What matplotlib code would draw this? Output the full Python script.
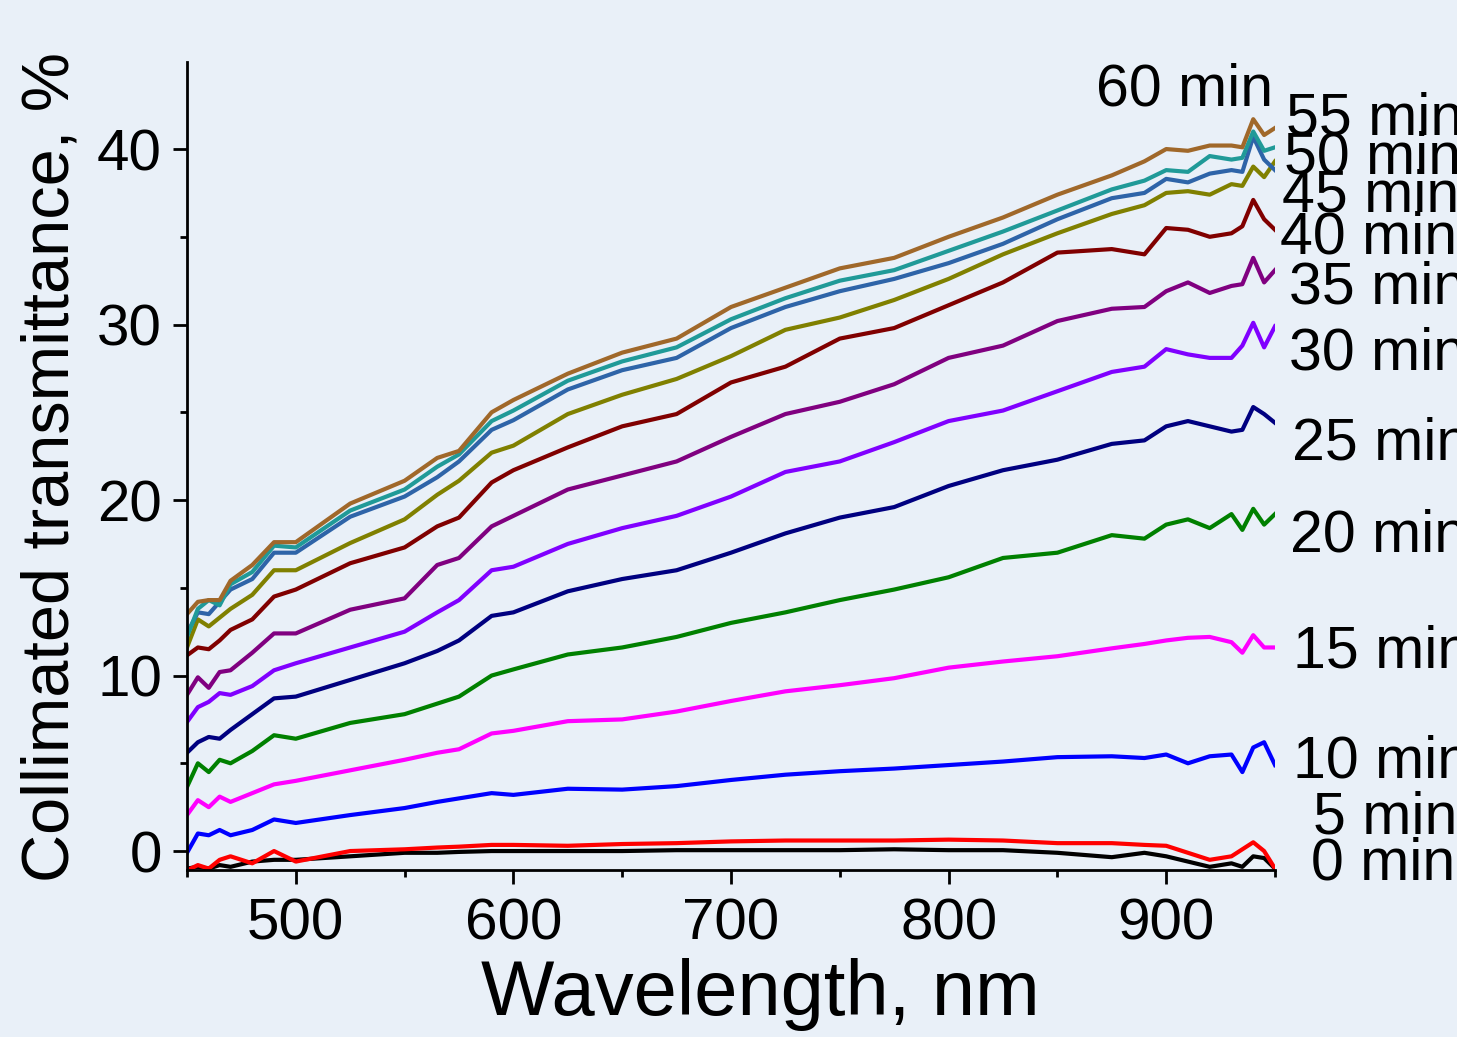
import matplotlib
matplotlib.use("Agg")
import matplotlib.pyplot as plt
from matplotlib.ticker import MultipleLocator

plt.rcParams['font.family'] = ['Liberation Sans', 'DejaVu Sans']

# wavelength grid, nm
wl = [450, 455, 460, 465, 470, 480, 490, 500, 525, 550, 565, 575, 590, 600,
      625, 650, 675, 700, 725, 750, 775, 800, 825, 850, 875, 890, 900, 910,
      920, 930, 935, 940, 945, 950]

# collimated transmittance, %
t0 = [-1.0, -0.9, -1.0, -0.8, -0.9, -0.6, -0.5, -0.5, -0.3, -0.1, -0.1, -0.05,
      0.0, 0.0, 0.0, 0.0, 0.05, 0.05, 0.05, 0.05, 0.1, 0.05, 0.05, -0.1, -0.35,
      -0.1, -0.3, -0.6, -0.9, -0.7, -0.9, -0.3, -0.4, -1.0]
t5 = [-1.1, -0.8, -1.0, -0.5, -0.3, -0.7, 0.0, -0.6, 0.0, 0.1, 0.2, 0.25,
      0.35, 0.35, 0.3, 0.4, 0.45, 0.55, 0.6, 0.6, 0.6, 0.65, 0.6, 0.45, 0.45,
      0.35, 0.3, -0.1, -0.5, -0.3, 0.1, 0.5, 0.0, -1.0]
t10 = [-0.1, 1.0, 0.9, 1.2, 0.9, 1.2, 1.8, 1.6, 2.05, 2.45, 2.8, 3.0, 3.3, 3.2,
       3.55, 3.5, 3.7, 4.05, 4.35, 4.55, 4.7, 4.9, 5.1, 5.35, 5.4, 5.3, 5.5,
       5.0, 5.4, 5.5, 4.5, 5.9, 6.2, 4.9]
t15 = [2.05, 2.9, 2.5, 3.1, 2.8, 3.3, 3.8, 4.0, 4.6, 5.2, 5.6, 5.8, 6.7, 6.85,
       7.4, 7.5, 7.95, 8.55, 9.1, 9.45, 9.85, 10.45, 10.8, 11.1, 11.55, 11.8,
       12.0, 12.15, 12.2, 11.9, 11.3, 12.3, 11.6, 11.6]
t20 = [3.65, 5.0, 4.5, 5.2, 5.0, 5.7, 6.6, 6.4, 7.3, 7.8, 8.4, 8.8, 10.0, 10.35,
       11.2, 11.6, 12.2, 13.0, 13.6, 14.3, 14.9, 15.6, 16.7, 17.0, 18.0, 17.8,
       18.6, 18.9, 18.4, 19.2, 18.3, 19.5, 18.6, 19.2]
t25 = [5.6, 6.2, 6.5, 6.4, 6.9, 7.8, 8.7, 8.8, 9.75, 10.7, 11.4, 12.0, 13.4,
       13.6, 14.8, 15.5, 16.0, 17.0, 18.1, 19.0, 19.6, 20.8, 21.7, 22.3, 23.2,
       23.4, 24.2, 24.5, 24.2, 23.9, 24.0, 25.3, 24.9, 24.4]
t30 = [7.35, 8.2, 8.5, 9.0, 8.9, 9.4, 10.3, 10.7, 11.6, 12.5, 13.6, 14.3, 16.0,
       16.2, 17.5, 18.4, 19.1, 20.2, 21.6, 22.2, 23.3, 24.5, 25.1, 26.2, 27.3,
       27.6, 28.6, 28.3, 28.1, 28.1, 28.8, 30.1, 28.7, 29.9]
t35 = [8.9, 9.9, 9.3, 10.2, 10.3, 11.3, 12.4, 12.4, 13.75, 14.4, 16.3, 16.7,
       18.5, 19.1, 20.6, 21.4, 22.2, 23.6, 24.9, 25.6, 26.6, 28.1, 28.8, 30.2,
       30.9, 31.0, 31.9, 32.4, 31.8, 32.2, 32.3, 33.8, 32.4, 33.1]
t40 = [11.15, 11.6, 11.5, 12.0, 12.6, 13.2, 14.5, 14.9, 16.4, 17.3, 18.5, 19.0,
       21.0, 21.7, 23.0, 24.2, 24.9, 26.7, 27.6, 29.2, 29.8, 31.1, 32.4, 34.1,
       34.3, 34.0, 35.5, 35.4, 35.0, 35.2, 35.6, 37.1, 36.0, 35.4]
t45 = [11.6, 13.2, 12.8, 13.3, 13.8, 14.6, 16.0, 16.0, 17.55, 18.9, 20.3, 21.1,
       22.7, 23.1, 24.9, 26.0, 26.9, 28.2, 29.7, 30.4, 31.4, 32.6, 34.0, 35.2,
       36.3, 36.8, 37.5, 37.6, 37.4, 38.0, 37.9, 39.0, 38.4, 39.3]
t50 = [12.4, 13.6, 13.5, 14.2, 14.9, 15.5, 17.0, 17.0, 19.05, 20.2, 21.3, 22.2,
       24.0, 24.55, 26.3, 27.4, 28.1, 29.8, 31.0, 31.9, 32.6, 33.5, 34.6, 36.0,
       37.2, 37.5, 38.3, 38.1, 38.6, 38.8, 38.7, 40.7, 39.4, 38.8]
t55 = [12.2, 13.8, 14.3, 14.0, 15.2, 15.9, 17.4, 17.3, 19.4, 20.6, 21.9, 22.6,
       24.5, 25.1, 26.8, 27.9, 28.7, 30.3, 31.5, 32.5, 33.1, 34.2, 35.3, 36.5,
       37.7, 38.2, 38.8, 38.7, 39.6, 39.4, 39.5, 41.0, 39.9, 40.1]
t60 = [13.5, 14.2, 14.3, 14.3, 15.4, 16.3, 17.6, 17.6, 19.8, 21.1, 22.4, 22.8,
       25.0, 25.7, 27.2, 28.4, 29.2, 31.0, 32.1, 33.2, 33.8, 35.0, 36.1, 37.4,
       38.5, 39.3, 40.0, 39.9, 40.2, 40.2, 40.1, 41.7, 40.8, 41.2]

series = [t0, t5, t10, t15, t20, t25, t30, t35, t40, t45, t50, t55, t60]
labels = ['0 min', '5 min', '10 min', '15 min', '20 min', '25 min', '30 min',
          '35 min', '40 min', '45 min', '50 min', '55 min', '60 min']
colors = ['#000000', '#ff0000', '#0000ff', '#ff00ff', '#008000', '#000080',
          '#8000ff', '#800080', '#800000', '#808000', '#2e64a8', '#209a98',
          '#a0682a']
# label anchor (left x, baseline y) in pixels of the 1457x1037 figure
label_px = [(1311, 879), (1313, 834), (1293, 778), (1293, 668), (1290, 551),
            (1292, 460), (1289, 370), (1289, 303), (1280, 253), (1282, 211),
            (1284, 173), (1286, 134), (1096, 106)]

W, H = 1457, 1037
bg = '#e9f0f8'
fig = plt.figure(figsize=(W / 100, H / 100), dpi=100, facecolor=bg)
ax = fig.add_axes([187 / W, 1 - 870 / H, (1275 - 187) / W, (870 - 62) / H])
ax.set_facecolor(bg)

for y, c in zip(series, colors):
    ax.plot(wl, y, color=c, lw=3.0, solid_joinstyle='round')

ax.set_xlim(450, 950)
ax.set_ylim(-1.08, 44.96)
ax.xaxis.set_major_locator(MultipleLocator(100))
ax.xaxis.set_minor_locator(MultipleLocator(50))
ax.yaxis.set_major_locator(MultipleLocator(10))
ax.yaxis.set_minor_locator(MultipleLocator(5))
ax.tick_params(which='both', direction='out', width=2, labelsize=42)
ax.tick_params(which='major', length=10)
ax.tick_params(which='minor', length=5)
ax.tick_params(axis='x', pad=10)
ax.tick_params(axis='y', pad=8)
for s in ['top', 'right']:
    ax.spines[s].set_visible(False)
for s in ['left', 'bottom']:
    ax.spines[s].set_linewidth(2)

fig.text(760 / W, 1 - 1015 / H, 'Wavelength, nm', fontsize=56,
         ha='center', va='baseline')
fig.text(52 / W, 1 - 467 / H, 'Collimated transmittance, %', fontsize=48,
         rotation=90, ha='center', va='center')

for lab, (px, py) in zip(labels, label_px):
    fig.text(px / W, 1 - py / H, lab, fontsize=42.5, ha='left', va='baseline')

fig.savefig('out.png', dpi=100, facecolor=bg)
